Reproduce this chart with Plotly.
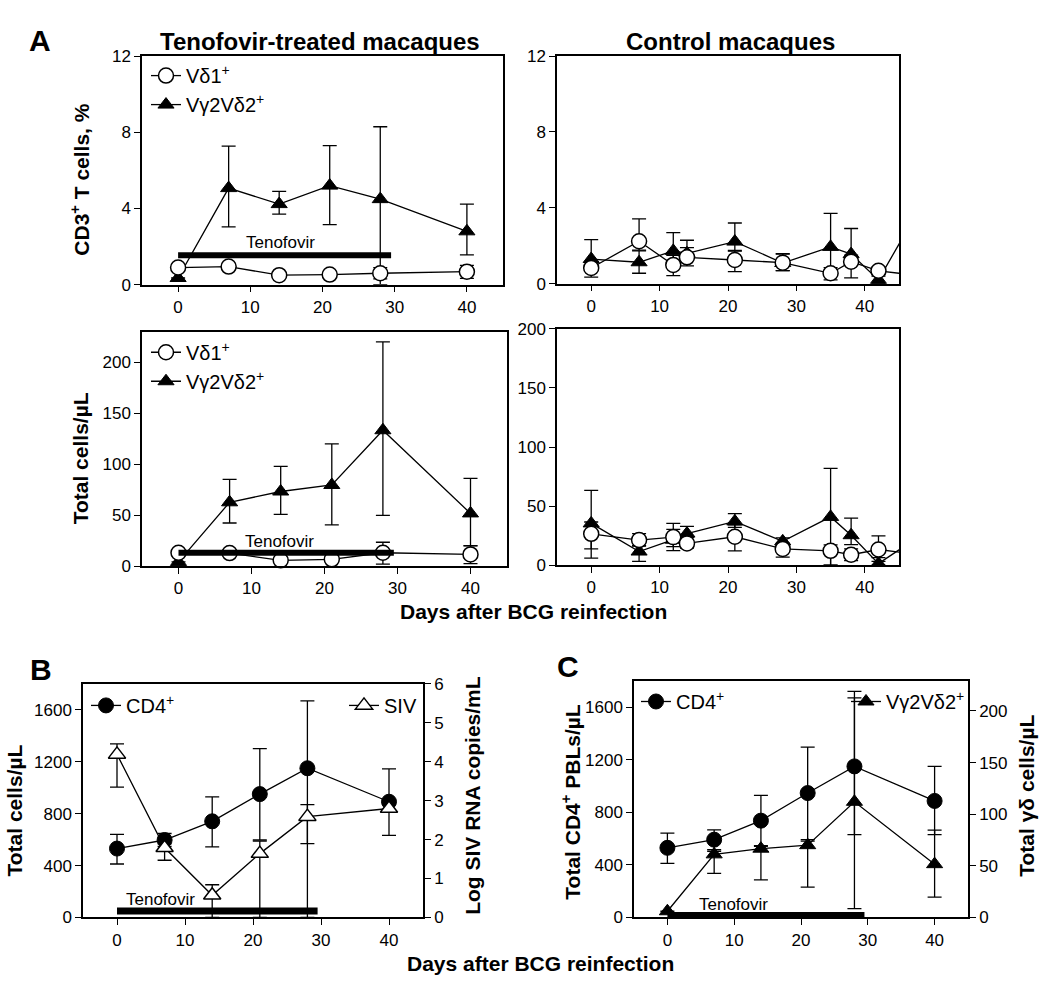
import plotly.graph_objects as go

W, H = 1050, 1002
FONT = "Liberation Sans, Arial, sans-serif"

# ---------------- Data ----------------
# Panel A, tenofovir-treated macaques
treated_days = [0, 7, 14, 21, 28, 40]
treated_vd1_pct = [0.9, 0.95, 0.5, 0.53, 0.6, 0.68]
treated_vd1_pct_up = [0.08, 0.08, 0.05, 0.05, 0.3, 0.33]
treated_vd1_pct_dn = [0.08, 0.08, 0.05, 0.05, 0.3, 0.35]
treated_vg2_pct = [0.35, 5.07, 4.23, 5.2, 4.49, 2.8]
treated_vg2_pct_up = [0.0, 2.2, 0.67, 2.1, 3.8, 1.43]
treated_vg2_pct_dn = [0.0, 2.04, 0.53, 2.05, 4.49, 1.24]

treated_vd1_abs = [13.2, 12.9, 5.8, 6.8, 13.2, 11.6]
treated_vd1_abs_up = [0.0, 0.0, 0.0, 0.0, 10.3, 8.4]
treated_vd1_abs_dn = [0.0, 0.0, 0.0, 0.0, 11.2, 9.0]
treated_vg2_abs = [4.2, 62.7, 73.3, 79.7, 133.4, 51.8]
treated_vg2_abs_up = [0.0, 22.5, 24.7, 40.3, 86.6, 34.4]
treated_vg2_abs_dn = [0.0, 20.3, 22.5, 39.2, 83.6, 31.5]

# Panel A, control macaques
control_days = [0, 7, 12, 14, 21, 28, 35, 38, 42, 49]
control_vd1_pct = [0.83, 2.24, 0.99, 1.39, 1.25, 1.11, 0.55, 1.16, 0.68, 0.38]
control_vd1_pct_up = [0.3, 1.18, 0.5, 0.9, 0.5, 0.45, 0.3, 0.35, 0.2, 0.0]
control_vd1_pct_dn = [0.48, 0.47, 0.56, 0.45, 0.61, 0.42, 0.35, 0.85, 0.2, 0.0]
control_vg2_pct = [1.3, 1.13, 1.73, 1.6, 2.22, 1.09, 1.94, 1.56, 0.2, 4.6]
control_vg2_pct_up = [1.02, 0.6, 0.96, 0.3, 0.98, 0.5, 1.77, 1.35, 0.2, 0.0]
control_vg2_pct_dn = [0.4, 0.58, 0.5, 0.3, 0.5, 0.4, 1.24, 0.5, 0.2, 0.0]

control_vd1_abs = [26.6, 21.3, 23.8, 18.5, 24.1, 13.8, 12.2, 8.9, 13.3, 8.2]
control_vd1_abs_up = [10.0, 5.5, 11.6, 5.0, 10.0, 5.0, 5.0, 5.0, 11.6, 0.0]
control_vd1_abs_dn = [20.6, 5.0, 8.0, 4.0, 11.9, 6.9, 12.2, 5.0, 10.0, 0.0]
control_vg2_abs = [35.4, 11.6, 21.6, 26.8, 37.1, 20.2, 40.9, 25.4, 1.4, 28.5]
control_vg2_abs_up = [27.9, 5.0, 8.8, 6.1, 6.6, 3.0, 41.0, 14.4, 5.0, 0.0]
control_vg2_abs_dn = [21.6, 8.3, 9.2, 5.0, 5.0, 3.0, 40.9, 8.0, 1.4, 0.0]

# Panel B
b_days = [0, 7, 14, 21, 28, 40]
b_cd4 = [531, 597, 741, 951, 1150, 892]
b_cd4_up = [109, 50, 189, 351, 519, 253]
b_cd4_dn = [119, 50, 197, 354, 581, 260]
b_siv = [4.19, 1.79, 0.57, 1.64, 2.59, 2.8]
b_siv_up = [0.27, 0.1, 0.27, 0.32, 0.31, 0.1]
b_siv_dn = [0.84, 0.32, 0.57, 1.64, 2.59, 0.1]

# Panel C
c_days = [0, 7, 14, 21, 28, 40]
c_cd4 = [530, 592, 737, 947, 1150, 887]
c_cd4_up = [112, 75, 193, 350, 522, 263]
c_cd4_dn = [118, 75, 195, 355, 520, 257]
c_vg2 = [6, 61.1, 66.6, 70, 112, 51.6]
c_vg2_up = [0, 3, 3, 4, 107, 33]
c_vg2_dn = [0, 18.4, 30.3, 40.7, 103.4, 31.9]

# Tenofovir treatment period (days) and bar level per panel
tenofovir_days = [0, 29.5]
tenofovir_level_A_pct = 1.55
tenofovir_level_A_abs = 13.2
tenofovir_level_B = 50
tenofovir_level_C = 18

xticks = [0, 10, 20, 30, 40]


def pxx(p):
    return p / W


def pxy(p):
    return 1 - p / H


fig = go.Figure()


def err(up, dn):
    return dict(type="data", symmetric=False, array=up, arrayminus=dn,
                color="black", thickness=1.3, width=7)


def open_circle(size=15):
    return dict(symbol="circle", size=size, color="white", line=dict(color="black", width=1.5))


def filled_tri(size=14):
    return dict(symbol="triangle-up", size=size, color="black", line=dict(color="black", width=1))


def open_tri(size=15):
    return dict(symbol="triangle-up", size=size, color="white", line=dict(color="black", width=1.5))


def filled_circle(size=15):
    return dict(symbol="circle", size=size, color="black", line=dict(color="black", width=1))


LINE = dict(color="black", width=1.3)


def tenofovir_bar(xa, ya, level, width=6):
    fig.add_trace(go.Scatter(x=tenofovir_days, y=[level, level], mode="lines",
                             line=dict(color="black", width=width), xaxis=xa, yaxis=ya,
                             showlegend=False, hoverinfo="skip"))


# --- A top-left
tenofovir_bar("x", "y", tenofovir_level_A_pct)
fig.add_trace(go.Scatter(x=treated_days, y=treated_vg2_pct, mode="lines+markers", name="Vγ2Vδ2<sup>+</sup>",
                         line=LINE, marker=filled_tri(), error_y=err(treated_vg2_pct_up, treated_vg2_pct_dn),
                         xaxis="x", yaxis="y", legend="legend", legendrank=2, cliponaxis=False))
fig.add_trace(go.Scatter(x=treated_days, y=treated_vd1_pct, mode="lines+markers", name="Vδ1<sup>+</sup>",
                         line=LINE, marker=open_circle(), error_y=err(treated_vd1_pct_up, treated_vd1_pct_dn),
                         xaxis="x", yaxis="y", legend="legend", legendrank=1, cliponaxis=False))

# --- A top-right
fig.add_trace(go.Scatter(x=control_days, y=control_vg2_pct, mode="lines+markers",
                         line=LINE, marker=filled_tri(), error_y=err(control_vg2_pct_up, control_vg2_pct_dn),
                         xaxis="x2", yaxis="y2", showlegend=False))
fig.add_trace(go.Scatter(x=control_days, y=control_vd1_pct, mode="lines+markers",
                         line=LINE, marker=open_circle(), error_y=err(control_vd1_pct_up, control_vd1_pct_dn),
                         xaxis="x2", yaxis="y2", showlegend=False))

# --- A bottom-left
fig.add_trace(go.Scatter(x=treated_days, y=treated_vg2_abs, mode="lines+markers", name="Vγ2Vδ2<sup>+</sup>",
                         line=LINE, marker=filled_tri(), error_y=err(treated_vg2_abs_up, treated_vg2_abs_dn),
                         xaxis="x3", yaxis="y3", legend="legend2", legendrank=2, cliponaxis=False))
fig.add_trace(go.Scatter(x=treated_days, y=treated_vd1_abs, mode="lines+markers", name="Vδ1<sup>+</sup>",
                         line=LINE, marker=open_circle(), error_y=err(treated_vd1_abs_up, treated_vd1_abs_dn),
                         xaxis="x3", yaxis="y3", legend="legend2", legendrank=1, cliponaxis=False))
tenofovir_bar("x3", "y3", tenofovir_level_A_abs)

# --- A bottom-right
fig.add_trace(go.Scatter(x=control_days, y=control_vg2_abs, mode="lines+markers",
                         line=LINE, marker=filled_tri(), error_y=err(control_vg2_abs_up, control_vg2_abs_dn),
                         xaxis="x4", yaxis="y4", showlegend=False))
fig.add_trace(go.Scatter(x=control_days, y=control_vd1_abs, mode="lines+markers",
                         line=LINE, marker=open_circle(), error_y=err(control_vd1_abs_up, control_vd1_abs_dn),
                         xaxis="x4", yaxis="y4", showlegend=False))

# --- B
tenofovir_bar("x5", "y5", tenofovir_level_B, width=7)
fig.add_trace(go.Scatter(x=b_days, y=b_siv, mode="lines+markers", name="SIV",
                         line=LINE, marker=open_tri(), error_y=err(b_siv_up, b_siv_dn),
                         xaxis="x5", yaxis="y6", legend="legend4", cliponaxis=False))
fig.add_trace(go.Scatter(x=b_days, y=b_cd4, mode="lines+markers", name="CD4<sup>+</sup>",
                         line=LINE, marker=filled_circle(), error_y=err(b_cd4_up, b_cd4_dn),
                         xaxis="x5", yaxis="y5", legend="legend3", cliponaxis=False))

# --- C
tenofovir_bar("x7", "y7", tenofovir_level_C, width=6)
fig.add_trace(go.Scatter(x=c_days, y=c_vg2, mode="lines+markers", name="Vγ2Vδ2<sup>+</sup>",
                         line=LINE, marker=filled_tri(), error_y=err(c_vg2_up, c_vg2_dn),
                         xaxis="x7", yaxis="y8", legend="legend6", cliponaxis=False))
fig.add_trace(go.Scatter(x=c_days, y=c_cd4, mode="lines+markers", name="CD4<sup>+</sup>",
                         line=LINE, marker=filled_circle(), error_y=err(c_cd4_up, c_cd4_dn),
                         xaxis="x7", yaxis="y7", legend="legend5", cliponaxis=False))

TICKFONT = dict(family=FONT, size=17, color="black")


def xax(x0, x1, anchor):
    return dict(domain=[pxx(x0), pxx(x1)], range=[-5, 45], tickvals=xticks, ticks="outside",
                ticklen=6, tickwidth=1.3, tickcolor="black", showline=True, linecolor="black",
                linewidth=1.5, mirror=True, showgrid=False, zeroline=False, anchor=anchor,
                tickfont=TICKFONT)


def yax(y0, y1, rng, tv, anchor, mirror=True):
    return dict(domain=[pxy(y1), pxy(y0)], range=rng, tickvals=tv, ticks="outside",
                ticklen=6, tickwidth=1.3, tickcolor="black", showline=True, linecolor="black",
                linewidth=1.5, mirror=mirror, showgrid=False, zeroline=False, anchor=anchor,
                tickfont=TICKFONT)


layout = dict(
    width=W, height=H, paper_bgcolor="white", plot_bgcolor="white",
    margin=dict(l=0, r=0, t=0, b=0),
    font=dict(family=FONT, color="black"),
    xaxis=xax(142, 503, "y"),
    yaxis=yax(48, 281, [0, 12], [0, 4, 8, 12], "x"),
    xaxis2=xax(557, 899, "y2"),
    yaxis2=yax(48, 280, [0, 12], [0, 4, 8, 12], "x2"),
    xaxis3=xax(142, 507, "y3"),
    yaxis3=yax(329, 568, [0, 230], [0, 50, 100, 150, 200], "x3"),
    xaxis4=xax(557, 899, "y4"),
    yaxis4=yax(326, 567, [0, 200], [0, 50, 100, 150, 200], "x4"),
    xaxis5=xax(83, 423, "y5"),
    yaxis5=yax(688, 926, [0, 1800], [0, 400, 800, 1200, 1600], "x5"),
    yaxis6=dict(yax(688, 926, [0, 6], [0, 1, 2, 3, 4, 5, 6], "x5", mirror=False),
                overlaying="y5", side="right"),
    xaxis7=xax(634, 968, "y7"),
    yaxis7=yax(685, 926, [0, 1800], [0, 400, 800, 1200, 1600], "x7"),
    yaxis8=dict(yax(685, 926, [0, 229], [0, 50, 100, 150, 200], "x7", mirror=False),
                overlaying="y7", side="right"),
    showlegend=True,
)

LEGFONT = dict(family=FONT, size=20, color="black")


def leg(x, y, xanchor="left"):
    return dict(x=pxx(x), y=pxy(y), xanchor=xanchor, yanchor="top", xref="paper", yref="paper",
                bgcolor="rgba(0,0,0,0)", font=LEGFONT, tracegroupgap=4, traceorder="normal",
                itemclick=False)


layout["legend"] = leg(146, 48)
layout["legend2"] = leg(146, 330)
layout["legend3"] = leg(86, 690)
layout["legend4"] = leg(422, 690, "right")
layout["legend5"] = leg(636, 686)
layout["legend6"] = leg(970, 686, "right")

fig.update_layout(**layout)


# ---------------- Annotations ----------------
def ann(text, x, y, size, bold=False, angle=0, xref="paper", yref="paper"):
    t = f"<b>{text}</b>" if bold else text
    fig.add_annotation(text=t, x=x, y=y, xref=xref, yref=yref, showarrow=False,
                       font=dict(family=FONT, size=size, color="black"), textangle=angle,
                       xanchor="center", yanchor="middle")


ann("A", pxx(40), pxy(32), 30, bold=True)
ann("B", pxx(41), pxy(673), 30, bold=True)
ann("C", pxx(568), pxy(670), 30, bold=True)
ann("Tenofovir-treated macaques", pxx(320), pxy(33), 24, bold=True)
ann("Control macaques", pxx(730), pxy(33), 24, bold=True)
ann("Days after BCG reinfection", pxx(533), pxy(614), 21, bold=True)
ann("Days after BCG reinfection", pxx(540), pxy(973), 21, bold=True)

ann("CD3<sup>+</sup> T cells, %", pxx(80), pxy(174), 21, bold=True, angle=-90)
ann("Total cells/µL", pxx(80), pxy(458), 21, bold=True, angle=-90)
ann("Total cells/µL", pxx(15), pxy(817), 21, bold=True, angle=-90)
ann("Log SIV RNA copies/mL", pxx(473), pxy(802), 21, bold=True, angle=-90)
ann("Total CD4<sup>+</sup> PBLs/µL", pxx(571), pxy(809), 21, bold=True, angle=-90)
ann("Total γδ cells/µL", pxx(1027), pxy(802), 21, bold=True, angle=-90)

# Tenofovir labels (data coordinates)
ann("Tenofovir", 14.2, 2.2, 17, xref="x", yref="y")
ann("Tenofovir", 13.9, 24, 17, xref="x3", yref="y3")
ann("Tenofovir", 6.4, 140, 17, xref="x5", yref="y5")
ann("Tenofovir", 9.9, 98, 17, xref="x7", yref="y7")

fig.write_html("out.html", config={"displayModeBar": False},
               post_script="document.body.style.margin='0';document.body.style.padding='0';")
